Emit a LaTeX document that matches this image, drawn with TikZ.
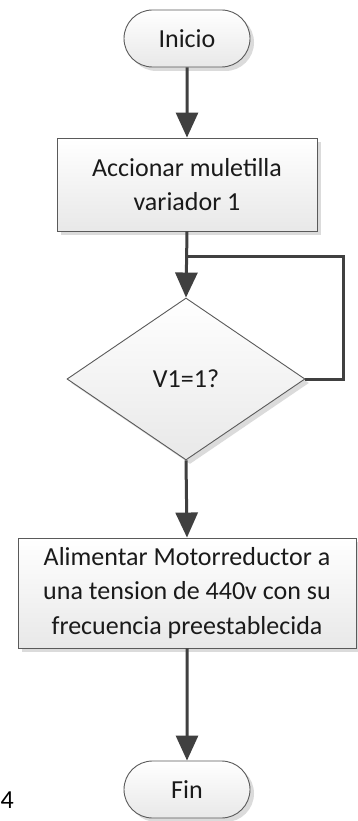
\documentclass[tikz,border=0pt]{standalone}
\usepackage{fontspec}
\setmainfont{Carlito}
\usetikzlibrary{arrows.meta,shapes.geometric,shapes.misc,shadows}
\definecolor{edgegray}{HTML}{5A5A5A}
\definecolor{linegray}{HTML}{404040}
\definecolor{txtgray}{HTML}{1A1A1A}
\tikzset{
  shapebase/.style={draw=edgegray, line width=0.9pt, top color=white, bottom color=black!9,
    text=txtgray, font=\fontsize{26}{34.5}\selectfont, align=center, inner sep=0pt,
    drop shadow={shadow xshift=4pt, shadow yshift=-4pt, fill=black, opacity=0.14}},
  terminal/.style={shapebase, rounded rectangle, minimum width=126pt, minimum height=57pt},
  procbox/.style={shapebase, rectangle},
  decision/.style={shapebase, diamond, minimum width=238pt, minimum height=162pt},
  flow/.style={draw=linegray, line width=3pt, -{Triangle[length=25pt,width=22pt]}},
  loopline/.style={draw=linegray, line width=3pt}
}
\begin{document}
\begin{tikzpicture}[x=1pt,y=-1pt]
\useasboundingbox[fill=white] (0,0) rectangle (358,821);
\node[terminal] (ini) at (187,38.5) {Inicio};
\node[procbox, minimum width=260pt, minimum height=93pt] (b1) at (187,184.5) {Accionar muletilla\\variador 1};
\node[decision] (d) at (186,379) {V1=1?};
\node[procbox, minimum width=338pt, minimum height=110pt] (b2) at (187,593) {Alimentar Motorreductor a\\una tension de 440v con su\\frecuencia preestablecida};
\node[terminal] (fin) at (187,789.5) {Fin};
\node[font=\fontsize{26}{30}\selectfont, text=black, inner sep=0pt, anchor=west] (num) at (0.5,800) {4};
\coordinate (j) at (187,256);
\coordinate (c) at (343,256);
\draw[flow] (ini) -- (b1);
\draw[flow] (b1.south) -- (d.north);
\draw[loopline] (d.east) -| (c) -- (j);
\draw[flow] (d.south) -- (b2.north);
\draw[flow] (b2) -- (fin);
\end{tikzpicture}
\end{document}
